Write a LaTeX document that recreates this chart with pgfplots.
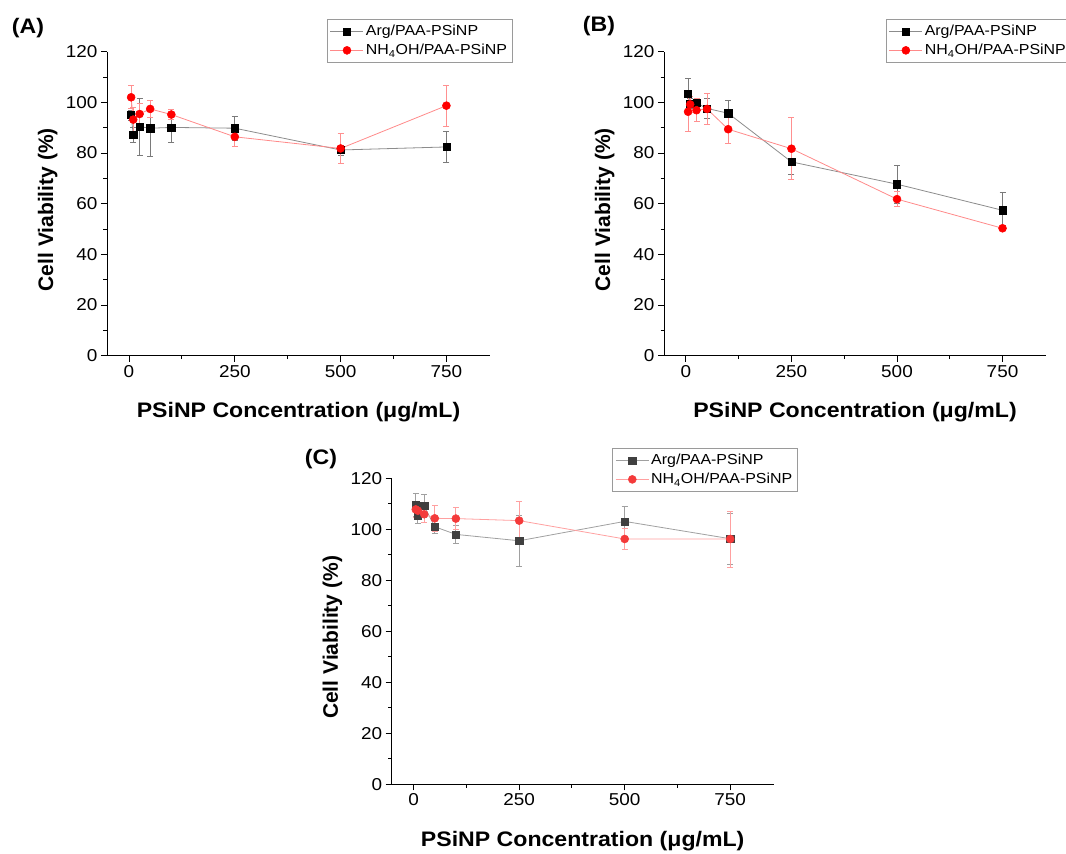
\documentclass[border=0pt]{standalone}
\usepackage{fontspec}
\setmainfont{Liberation Sans}[FakeStretch=1.1]
\newfontfamily\plainsans{Liberation Sans}
\usepackage{pgfplots}
\pgfplotsset{compat=1.18}

\definecolor{lnblack}{HTML}{8C8C8C}
\definecolor{errblack}{HTML}{7A7A7A}
\definecolor{mkred}{HTML}{FF0000}
\definecolor{lnred}{HTML}{FF8A8A}
\definecolor{errred}{HTML}{FF9090}
\definecolor{mkdark}{HTML}{404040}
\definecolor{lndark}{HTML}{A0A0A0}
\definecolor{mkred2}{HTML}{F43A3A}
\definecolor{lnred2}{HTML}{FFA0A0}
\definecolor{legframe}{HTML}{9A9A9A}

\pgfplotstableread{
x y e
5 95.0 2
10 87.3 3
25 90.4 11.3
50 89.8 11
100 90.1 5.8
250 89.8 4.7
500 81.2 2
750 82.4 6
}\Aarg
\pgfplotstableread{
x y e
5 102.0 4.5
10 93.2 5
25 95.4 4
50 97.4 3.5
100 95.2 2
250 86.4 3.9
500 81.8 5.8
750 98.7 8.1
}\Anh
\pgfplotstableread{
x y e
5 103.3 6
10 99.5 2
25 99.7 2
50 97.6 4
100 95.7 5
250 76.5 5
500 67.7 7.6
750 57.4 7
}\Barg
\pgfplotstableread{
x y e
5 96.3 7.7
10 99.2 3
25 96.9 4.5
50 97.4 6
100 89.4 5.7
250 81.7 12.3
500 61.8 3
750 50.3 1
}\Bnh
\pgfplotstableread{
x y e
5 109.5 4.5
10 105.2 3
25 109.1 4.6
50 101.0 2.5
100 98.0 3.7
250 95.5 10
500 103.1 5.8
750 96.3 10
}\Carg
\pgfplotstableread{
x y e
5 107.8 3
10 107.3 3
25 105.9 3
50 104.3 5
100 104.2 4.4
250 103.4 7.4
500 96.2 4
750 96.2 11
}\Cnh

\pgfplotsset{
  panel/.style={
    scale only axis, anchor=south west,
    xmin=-52, xmax=853, ymin=0, ymax=120,
    axis lines*=left,
    axis line style={line width=1bp, black},
    xtick={0,250,500,750}, ytick={0,20,...,120},
    minor x tick num=1, minor y tick num=1,
    tick align=outside, major tick length=6bp, minor tick length=3.5bp,
    every tick/.style={line width=1bp, black},
    /pgf/number format/assume math mode=true,
    tick label style={font=\fontsize{17.2bp}{20bp}\selectfont},
    xlabel={\bfseries PSiNP Concentration (μg/mL)},
    ylabel={\plainsans\bfseries Cell Viability (\%)},
    xlabel style={font=\fontsize{21bp}{24bp}\selectfont, at={(axis description cs:0.5,-0.185)}, anchor=center},
    ylabel style={font=\fontsize{21bp}{24bp}\selectfont, at={(axis description cs:-0.155,0.48)}, anchor=center},
    legend cell align=left,
    legend style={draw=legframe, line width=0.8bp, anchor=north west,
      font=\fontsize{14.5bp}{17bp}\selectfont, inner xsep=3bp, inner ysep=4bp, row sep=3bp},
    legend image code/.code={\draw[mark repeat=2,mark phase=2,##1] plot coordinates {(0bp,0bp) (16.5bp,0bp) (33bp,0bp)};},
  },
  sqser/.style n args={3}{line width=0.8bp, color=#2, mark=square*, mark size=3.6bp,
    mark options={fill=#1, draw=#1, line width=0.5bp},
    error bars/.cd, y dir=both, y explicit,
    error bar style={color=#3, line width=0.8bp},
    error mark options={rotate=90, mark size=3bp, line width=0.8bp, color=#3}},
  ciser/.style n args={3}{line width=0.8bp, color=#2, mark=*, mark size=4bp,
    mark options={fill=#1, draw=#1, line width=0.5bp},
    error bars/.cd, y dir=both, y explicit,
    error bar style={color=#3, line width=0.8bp},
    error mark options={rotate=90, mark size=3bp, line width=0.8bp, color=#3}},
}

\begin{document}
\begin{tikzpicture}
\useasboundingbox (0bp,0bp) rectangle (1066bp,854bp);

% Panel A
\begin{axis}[panel, at={(107bp,498.3bp)}, width=383bp, height=304bp,
  legend style={at={(axis description cs:0.5736,1.1076)}}]
\addplot[sqser={black}{lnblack}{errblack}] table[x=x,y=y,y error=e]{\Aarg};
\addlegendentry{Arg/PAA-PSiNP}
\addplot[ciser={mkred}{lnred}{errred}] table[x=x,y=y,y error=e]{\Anh};
\addlegendentry{NH\textsubscript{4}OH/PAA-PSiNP}
\end{axis}

% Panel B
\begin{axis}[panel, at={(664bp,498.3bp)}, width=382bp, height=304bp,
  legend style={at={(axis description cs:0.580,1.1076)}}]
\addplot[sqser={black}{lnblack}{errblack}] table[x=x,y=y,y error=e]{\Barg};
\addlegendentry{Arg/PAA-PSiNP}
\addplot[ciser={mkred}{lnred}{errred}] table[x=x,y=y,y error=e]{\Bnh};
\addlegendentry{NH\textsubscript{4}OH/PAA-PSiNP}
\end{axis}

% Panel C
\begin{axis}[panel, at={(391.7bp,69.7bp)}, width=382bp, height=306bp,
  legend style={at={(axis description cs:0.5767,1.099)}}]
\addplot[sqser={mkdark}{lndark}{lndark}] table[x=x,y=y,y error=e]{\Carg};
\addlegendentry{Arg/PAA-PSiNP}
\addplot[ciser={mkred2}{lnred2}{lnred2}] table[x=x,y=y,y error=e]{\Cnh};
\addlegendentry{NH\textsubscript{4}OH/PAA-PSiNP}
\end{axis}

\node[font=\fontsize{21bp}{24bp}\selectfont\bfseries] at (28bp,826bp) {(A)};
\node[font=\fontsize{21bp}{24bp}\selectfont\bfseries] at (599bp,828bp) {(B)};
\node[font=\fontsize{21bp}{24bp}\selectfont\bfseries] at (321bp,395bp) {(C)};
\end{tikzpicture}
\end{document}
